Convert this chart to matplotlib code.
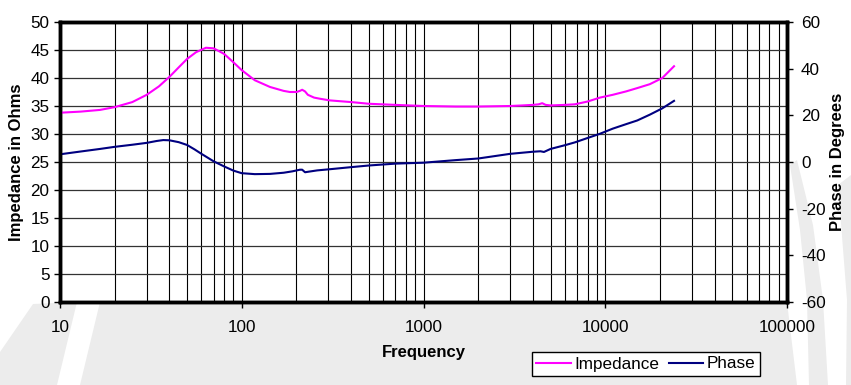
import numpy as np
import matplotlib
matplotlib.use("Agg")
import matplotlib.pyplot as plt
from matplotlib.patches import Polygon
from matplotlib.transforms import Affine2D
from matplotlib.ticker import LogLocator, FixedLocator, NullFormatter

plt.rcParams['font.family'] = ['Liberation Sans', 'DejaVu Sans']
plt.rcParams['axes.unicode_minus'] = False

# impedance curve (Hz, ohms)
imp_freq = [10, 13, 16.6, 20, 25, 30, 35, 40, 45, 50, 56, 63.5, 70, 80, 90, 100, 118, 143,
            170, 184, 200, 209, 215, 223, 231, 250, 269, 305, 400, 500, 700, 1000, 1500,
            2000, 3000, 3500, 4000, 4300, 4500, 4700, 5000, 6000, 6800, 8000, 9350, 11000,
            13000, 15000, 17600, 20600, 23900]
imp_ohm = [33.8, 34.0, 34.3, 34.8, 35.7, 37.0, 38.5, 40.2, 41.9, 43.4, 44.6, 45.4, 45.3, 44.3,
           42.8, 41.4, 39.6, 38.4, 37.7, 37.5, 37.5, 37.7, 37.9, 37.6, 37.0, 36.5, 36.3, 36.0,
           35.7, 35.4, 35.2, 35.0, 34.9, 34.9, 35.0, 35.1, 35.2, 35.3, 35.5, 35.2, 35.1, 35.2,
           35.3, 35.8, 36.5, 37.0, 37.6, 38.2, 38.9, 40.0, 42.1]

# phase curve (Hz, degrees)
ph_freq = [10, 13, 16.6, 20, 25, 30, 34, 37, 40, 45, 50, 55, 60, 70, 80, 90, 100, 118, 143,
           170, 190, 209, 215, 223, 231, 260, 305, 400, 500, 700, 1000, 1500, 2000, 3000,
           4000, 4400, 4600, 5000, 6000, 6800, 8000, 9350, 11000, 13000, 15000, 17600,
           20600, 23900]
ph_deg = [3.3, 4.5, 5.6, 6.5, 7.4, 8.2, 9.0, 9.4, 9.3, 8.5, 7.3, 5.4, 3.5, 0.3, -1.9, -3.7,
          -4.8, -5.2, -5.1, -4.6, -4.0, -3.3, -3.3, -4.4, -4.2, -3.6, -3.1, -2.2, -1.5, -0.7,
          -0.3, 0.8, 1.5, 3.5, 4.4, 4.6, 4.3, 5.6, 7.2, 8.4, 10.3, 12.1, 14.3, 16.2, 17.8,
          20.3, 23.0, 26.2]

x_ticks = [10, 100, 1000, 10000, 100000]
z_ticks = list(range(0, 55, 5))
p_ticks = list(range(-60, 80, 20))

W, H = 851, 385
fig = plt.figure(figsize=(W / 100, H / 100), dpi=100)

# faint watermark arcs behind the chart (pixel coords, y down)
px = Affine2D().scale(1, -1).translate(0, H) + fig.dpi_scale_trans.frozen().scale(1 / 100)
shade = '#ececec'
for pts in ([(100, 302), (787, 302), (797, 385), (80, 385)],
            [(33, 304), (77, 302), (57, 385), (0, 385), (0, 352)],
            [(790, 165), (800, 230), (807, 300), (809, 385), (828, 385), (823, 300),
             (813, 225), (797, 160)],
            [(838, 185), (851, 175), (851, 385), (846, 385), (847, 300)]):
    fig.patches.append(Polygon(pts, closed=True, transform=px, facecolor=shade,
                               edgecolor='none', zorder=-10))

ax = fig.add_axes([60 / W, 1 - 302 / H, 727 / W, 280 / H])
ax2 = ax.twinx()

ax.set_xscale('log')
ax.set_xlim(10, 100000)
ax.set_ylim(0, 50)
ax2.set_ylim(-60, 60)

# grid: every decade and every minor step, horizontal at each 5 ohm
ax.xaxis.set_major_locator(FixedLocator(x_ticks))
ax.xaxis.set_minor_locator(LogLocator(base=10, subs=np.arange(2, 10)))
ax.xaxis.set_minor_formatter(NullFormatter())
ax.set_xticklabels([str(t) for t in x_ticks])
ax.set_yticks(z_ticks)
ax2.set_yticks(p_ticks)
ax.grid(True, which='major', axis='y', color='#333333', lw=0.9)
ax.grid(True, which='both', axis='x', color='black', lw=0.8)

ln1, = ax2.plot(imp_freq, [z * 2.4 - 60 for z in imp_ohm], color='#ff00ff', lw=1.5,
                label='Impedance')
ln2, = ax2.plot(ph_freq, ph_deg, color='#000080', lw=1.5, label='Phase')

for a in (ax, ax2):
    for s in a.spines.values():
        s.set_linewidth(2.5)
ax.tick_params(axis='both', which='major', direction='out', length=4, width=1,
               labelsize=12.3, colors='black')
ax.tick_params(axis='x', which='minor', length=0)
ax.tick_params(axis='x', pad=9)
ax2.tick_params(axis='y', direction='out', length=4, width=1, labelsize=12.3, pad=6)

ax.set_xlabel('Frequency', fontsize=12, fontweight='bold', labelpad=7)
ax.set_ylabel('Impedance in Ohms', fontsize=12, fontweight='bold', labelpad=5)
ax2.set_ylabel('Phase in Degrees', fontsize=12, fontweight='bold', labelpad=3)

leg = fig.legend(handles=[ln1, ln2], loc='center', bbox_to_anchor=(646 / W, 1 - 364 / H),
                 ncol=2, frameon=True, fancybox=False, edgecolor='black', fontsize=12.3,
                 handlelength=2.0, handletextpad=0.2, columnspacing=0.6, borderpad=0.25,
                 framealpha=1)
leg.get_frame().set_linewidth(1.0)

fig.savefig('out.png', dpi=100)
